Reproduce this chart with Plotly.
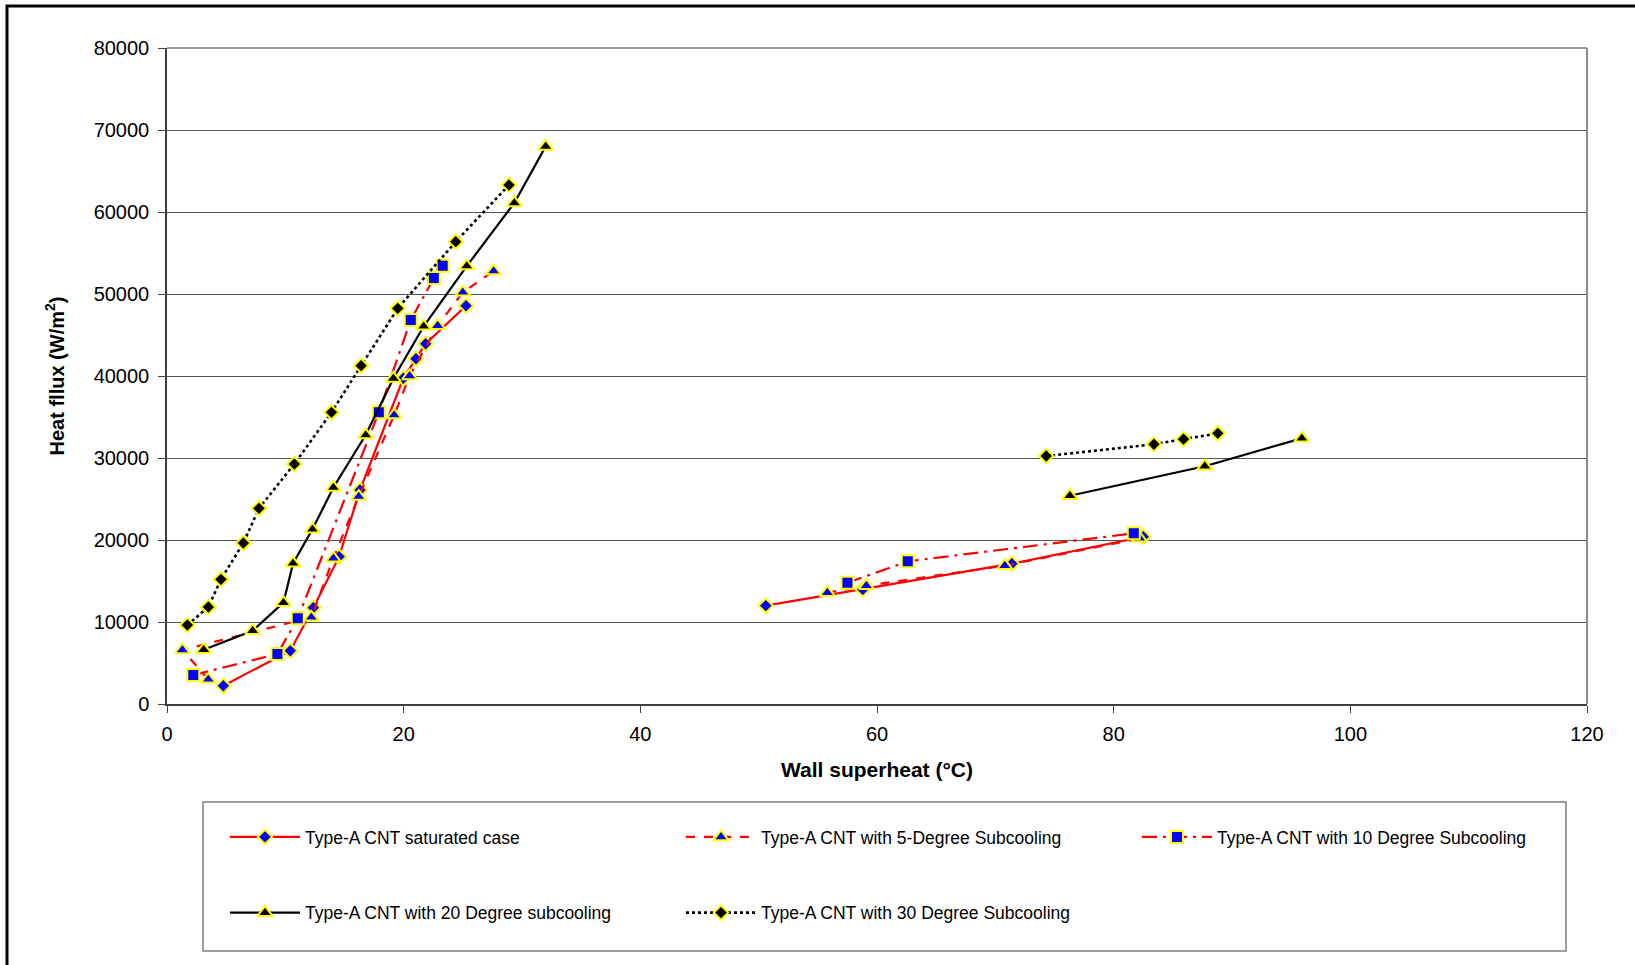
import plotly.graph_objects as go

# ---- data (wall superheat °C, heat flux W/m2); None separates the two branches ----
sat_x = [4.76, 10.42, 12.37, 14.54, 16.31, 19.97, 21.04, 21.86, 25.27, None, 50.6, 58.8, 71.4, 82.5]
sat_y = [2230, 6500, 11750, 17970, 26100, 39720, 42110, 43940, 48570, None, 12000, 13980, 17110, 20400]

sub5_x = [3.49, 1.3, 12.2, 14.06, 16.2, 19.2, 20.5, 22.87, 25.0, 27.6, None, 55.8, 59.1, 70.8, 82.2]
sub5_y = [3010, 6585, 10570, 17770, 25290, 35240, 40000, 46130, 50200, 52800, None, 13580, 14430, 16870, 20200]

sub10_x = [2.22, 9.33, 11.05, 17.9, 20.6, 22.55, 23.3, None, 57.5, 62.6, 81.7]
sub10_y = [3540, 6100, 10450, 35570, 46830, 51950, 53460, None, 14790, 17400, 20810]

sub20_x = [3.10, 7.24, 9.84, 10.65, 12.29, 14.06, 16.79, 19.13, 21.69, 25.33, 29.35, 32.0, None, 76.3, 87.7, 95.9]
sub20_y = [6625, 8940, 12360, 17150, 21300, 26400, 32800, 39700, 46060, 53400, 61100, 68000, None, 25400, 29000, 32400]

sub30_x = [1.72, 3.49, 4.56, 6.45, 7.77, 10.76, 13.9, 16.4, 19.5, 24.4, 28.9, None, 74.3, 83.4, 85.9, 88.8]
sub30_y = [9630, 11830, 15200, 19630, 23860, 29270, 35570, 41260, 48250, 56380, 63290, None, 30240, 31670, 32300, 33010]

names = [
    "Type-A CNT saturated case",
    "Type-A CNT with 5-Degree Subcooling",
    "Type-A CNT with 10 Degree Subcooling",
    "Type-A CNT with 20 Degree subcooling",
    "Type-A CNT with 30 Degree Subcooling",
]

x_ticks = [0, 20, 40, 60, 80, 100, 120]
y_ticks = [0, 10000, 20000, 30000, 40000, 50000, 60000, 70000, 80000]

W, H = 1635, 965
L, R, T, B = 167, 48, 48, 261
PW, PH = W - L - R, H - T - B


def px(x):
    return (x - L) / PW


def py(y):
    return (H - B - y) / PH


YEL = "#FFFF00"
FONT = "Liberation Sans, Arial, sans-serif"

series = [
    (sat_x, sat_y, "#FF0000", "solid", "diamond", "#0000FF", 11),
    (sub5_x, sub5_y, "#FF0000", "dash", "triangle-up", "#0000FF", 13),
    (sub10_x, sub10_y, "#FF0000", "longdashdot", "square", "#0000FF", 12),
    (sub20_x, sub20_y, "#000000", "solid", "triangle-up", "#000000", 13),
    (sub30_x, sub30_y, "#000000", "dot", "diamond", "#000000", 11),
]

fig = go.Figure()
for i, (xs, ys, lc, dash, sym, mc, ms) in enumerate(series):
    fig.add_trace(go.Scatter(
        x=xs, y=ys, name=names[i], mode="lines+markers",
        legendgroup=f"g{i}",
        line=dict(color=lc, width=2.2 if dash != "dot" else 2.6, dash=dash),
        marker=dict(symbol=sym, color=mc, size=ms, line=dict(color=YEL, width=2)),
        connectgaps=False,
    ))

fig.update_layout(
    width=W, height=H,
    margin=dict(l=L, r=R, t=T, b=B, autoexpand=False),
    paper_bgcolor="white", plot_bgcolor="white",
    font=dict(family=FONT, color="black", size=20),
    showlegend=True,
    legend=dict(
        orientation="h", x=px(225), y=py(819), xanchor="left", yanchor="top",
        traceorder="grouped", tracegroupgap=50,
        entrywidth=371, entrywidthmode="pixels", itemwidth=70,
        font=dict(family=FONT, size=17.5, color="black"),
        bgcolor="rgba(0,0,0,0)", borderwidth=0,
    ),
    xaxis=dict(
        range=[0, 120], tickvals=x_ticks, showgrid=False, zeroline=False,
        showline=True, linecolor="#404040", linewidth=1.5,
        ticks="outside", ticklen=7, tickcolor="#404040", ticklabelstandoff=4,
        title=dict(text="<b>Wall superheat (°C)</b>", font=dict(family=FONT, size=21), standoff=19),
    ),
    yaxis=dict(
        range=[0, 80000], tickvals=y_ticks, tickformat="d",
        showgrid=True, gridcolor="#555555", gridwidth=1,
        zeroline=False, showline=True, linecolor="#404040", linewidth=1.5,
        ticks="outside", ticklen=7, tickcolor="#404040", ticklabelstandoff=5,
        title=dict(text="<b>Heat fllux (W/m<sup>2</sup>)</b>",
                   font=dict(family="Liberation Sans Narrow, Arial Narrow, sans-serif", size=20), standoff=24),
    ),
    shapes=[
        # plot area top/right border
        dict(type="line", xref="paper", yref="paper", x0=0, x1=1, y0=1, y1=1,
             line=dict(color="#9a9a9a", width=2)),
        dict(type="line", xref="paper", yref="paper", x0=1, x1=1, y0=0, y1=1,
             line=dict(color="#8a8a8a", width=2)),
        # legend frame
        dict(type="rect", xref="paper", yref="paper", x0=px(203), x1=px(1566), y0=py(951), y1=py(802),
             line=dict(color="#7f7f7f", width=1.5), layer="below"),
        # outer chart frame
        dict(type="rect", xref="paper", yref="paper", x0=px(7), x1=px(1645), y0=py(975), y1=py(6),
             line=dict(color="black", width=3), layer="below"),
    ],
)

fig.write_html("out.html", config={"displayModeBar": False},
               post_script="document.body.style.margin='0';document.body.style.overflow='hidden';")
